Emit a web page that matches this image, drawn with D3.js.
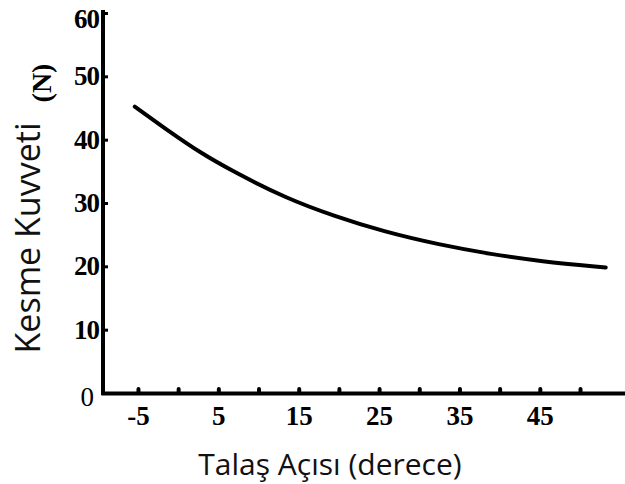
<!DOCTYPE html>
<html lang="tr">
<head>
  <meta charset="utf-8">
  <title>Kesme Kuvveti - Talaş Açısı</title>
  <script src="https://cdn.jsdelivr.net/npm/d3@7/dist/d3.min.js"></script>
  <style>
    html, body { margin: 0; padding: 0; background: #fff; }
    svg { display: block; }
  </style>
</head>
<body>
  <div id="chart"></div>

  <script>
    // ---- data ----
    const angle = [-5.4, -1, 2.8, 6.8, 13.5, 19.5, 25.5, 32.5, 39, 45, 53.2];   // Talaş açısı (derece)
    const force = [45.2, 41.2, 37.9, 35.0, 30.7, 27.9, 25.5, 23.4, 21.9, 20.8, 19.8]; // Kesme kuvveti (N)

    const xTickValues = [-5, 0, 5, 10, 15, 20, 25, 30, 35, 40, 45, 50];
    const xTickLabels = [-5, 5, 15, 25, 35, 45];
    const yTickValues = [0, 10, 20, 30, 40, 50, 60];

    const W = 625, H = 484;

    const svg = d3.select('#chart').append('svg')
      .attr('width', W)
      .attr('height', H);

    const x = d3.scaleLinear().domain([-9.6, 55.6]).range([101, 625]);
    const y = d3.scaleLinear().domain([0, 60]).range([393, 13]);

    const serif = '"Liberation Serif", "Times New Roman", serif';
    const sans  = '"Open Sans", "Noto Sans", sans-serif';

    // ---- x axis ----
    const gx = svg.append('g')
      .attr('transform', `translate(0,${y(0)})`)
      .call(d3.axisBottom(x)
        .tickValues(xTickValues)
        .tickSizeInner(-4)
        .tickSizeOuter(0)
        .tickPadding(13)
        .tickFormat(d => xTickLabels.includes(d) ? (d < 0 ? '-' + Math.abs(d) : d) : ''));

    gx.select('.domain').attr('stroke', '#000').attr('stroke-width', 4);
    gx.selectAll('.tick line').attr('stroke', '#000').attr('stroke-width', 4).attr('stroke-linecap', 'round');
    gx.selectAll('.tick text')
      .attr('fill', '#000')
      .attr('font-family', serif)
      .attr('font-weight', 'bold')
      .attr('font-size', 27);

    // ---- y axis ----
    const gy = svg.append('g')
      .attr('transform', `translate(${x(-9.6) + 2},0)`)
      .call(d3.axisLeft(y)
        .tickValues(yTickValues)
        .tickSizeInner(-5)
        .tickSizeOuter(0)
        .tickPadding(7));

    gy.select('.domain').attr('stroke', '#000').attr('stroke-width', 4)
      .attr('d', `M0,${y(0) + 2}V${y(60) - 3}`);
    gy.selectAll('.tick line').attr('stroke', '#000').attr('stroke-width', 3);
    gy.selectAll('.tick text')
      .attr('fill', '#000')
      .attr('font-family', serif)
      .attr('font-weight', d => d === 0 ? 'normal' : 'bold')
      .attr('font-size', 27)
      .attr('letter-spacing', -1)
      .attr('x', -4)
      .attr('dy', d => d === 0 ? '0.45em' : d === 60 ? '0.52em' : '0.32em')
      .attr('dx', d => d === 0 ? -6 : 0);

    // ---- curve ----
    const line = d3.line()
      .x((d, i) => x(angle[i]))
      .y(d => y(d))
      .curve(d3.curveBasis);

    svg.append('path')
      .datum(force)
      .attr('fill', 'none')
      .attr('stroke', '#000')
      .attr('stroke-width', 4)
      .attr('stroke-linecap', 'round')
      .attr('stroke-linejoin', 'round')
      .attr('d', line);

    // ---- axis titles ----
    svg.append('text')
      .attr('x', 330)
      .attr('y', 475)
      .attr('text-anchor', 'middle')
      .attr('font-family', sans)
      .attr('font-size', 30)
      .attr('fill', '#111')
      .text('Talaş Açısı (derece)');

    svg.append('text')
      .attr('transform', 'translate(40,238) rotate(-90)')
      .attr('text-anchor', 'middle')
      .attr('font-family', sans)
      .attr('font-size', 34)
      .attr('fill', '#111')
      .text('Kesme Kuvveti');

    svg.append('text')
      .attr('transform', 'translate(51,83) rotate(-90)')
      .attr('text-anchor', 'middle')
      .attr('font-family', serif)
      .attr('font-weight', 'bold')
      .attr('font-size', 28)
      .attr('fill', '#000')
      .text('(N)');
  </script>
</body>
</html>
